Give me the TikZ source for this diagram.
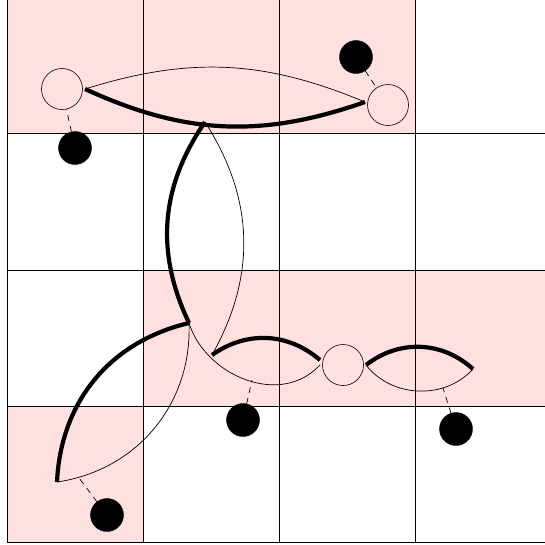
\documentclass[tikz,border=0pt]{standalone}
\usepackage{xcolor}
\usepackage{tikz}
\usetikzlibrary{positioning}

\definecolor{cellred}{RGB}{255,224,224}

\begin{document}
\begin{tikzpicture}[
  x=1pt, y=-1pt,
  cell/.style={fill=cellred, draw=none},
  grd/.style={draw=black, line width=0.9pt},
  wnode/.style={draw, circle, minimum size=41pt, inner sep=0pt, line width=0.6pt},
  bnode/.style={draw, circle, fill=black, minimum size=33pt, inner sep=0pt},
  thn/.style={line width=0.7pt},
  thk/.style={line width=4.2pt},
  lnk/.style={dashed, line width=0.7pt, dash pattern=on 6pt off 5pt}
]
\useasboundingbox (0,0) rectangle (545,544);
% shaded cells
\fill[cell] (7,-3) rectangle (415,133.5);
\fill[cell] (143,270) rectangle (545,406);
\fill[cell] (7,406) rectangle (143,542);
% grid
\foreach \gx in {7,143,279,415} \draw[grd] (\gx,0) -- (\gx,542);
\foreach \gy in {133.5,270,406,542} \draw[grd] (7,\gy) -- (545,\gy);

% circles
\node[wnode] (w1) at (62,89) {};
\node[wnode] (w2) at (388,105) {};
\node[wnode] (w3) at (343,365) {};
\node[bnode] (b1) at (75,148) {};
\node[bnode] (b2) at (356,57) {};
\node[bnode] (b3) at (243,420) {};
\node[bnode] (b4) at (456,429) {};
\node[bnode] (b5) at (107,515) {};

% lens tips
\coordinate (p1) at (85,89);
\coordinate (p2) at (365,102);
\coordinate (p3) at (205,122);
\coordinate (p4) at (189,323);
\coordinate (p5) at (212,355);
\coordinate (p6) at (320,360);
\coordinate (p6b) at (320,365);
\coordinate (p7) at (57,482);
\coordinate (p8) at (366,365);
\coordinate (p9) at (473,369);
\coordinate (q1) at (79,478);
\coordinate (q2) at (252,380);
\coordinate (q3) at (443,388);

% lenses
\draw[thn] (p1) to[bend left=20] (p2);
\draw[thk] (p1) to[bend right=22] (p2);
\draw[thk] (p3) to[bend right=30] (p4);
\draw[thn] (p3) to[bend left=31] (p5);
\draw[thk] (p7) to[bend left=37] (p4);
\draw[thn] (p7) to[bend right=42] (p4);
\draw[thn] (p4) .. controls (205,375) and (280,408) .. (p6b);
\draw[thk] (p5) to[bend left=38] (p6);
\draw[thk] (p8) to[bend left=40] (p9);
\draw[thn] (p8) to[bend right=50] (p9);

% dashed links
\draw[lnk] (b1) -- (w1);
\draw[lnk] (b2) -- (w2);
\draw[lnk] (b3) -- (q2);
\draw[lnk] (b4) -- (q3);
\draw[lnk] (b5) -- (q1);
\end{tikzpicture}
\end{document}
